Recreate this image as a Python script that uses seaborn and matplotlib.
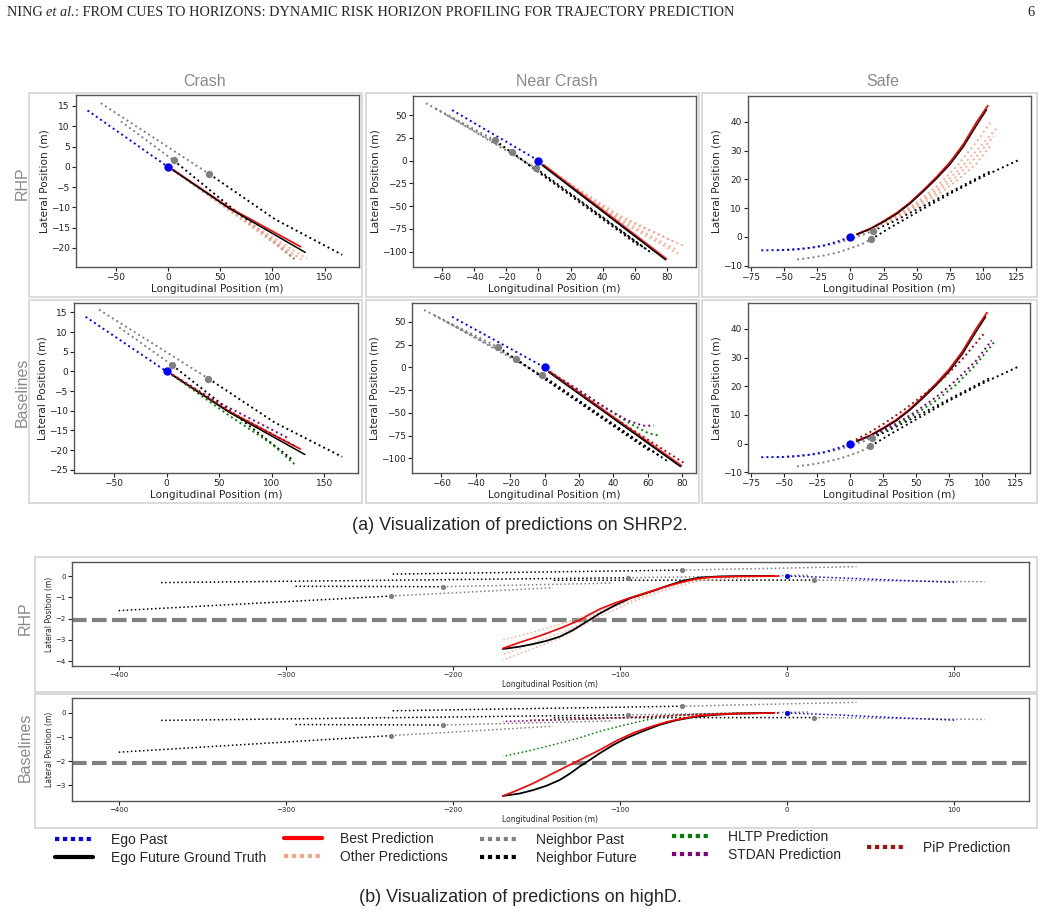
import matplotlib
matplotlib.use("Agg")
import matplotlib.pyplot as plt
from matplotlib.lines import Line2D
from matplotlib.patches import Rectangle
import seaborn as sns

# ---------------- SHRP2 : crash ----------------
crash_ego_past = [(-77, 13.9), (0, 0)]
crash_ego_future = [(4.8, -0.8), (59, -10.3), (131.5, -21.1)]
crash_best = [(4.8, -0.7), (59, -10.1), (127, -19.7)]
crash_others = [
    [(4.8, -0.8), (60, -10.8), (116, -21.5)],
    [(4.8, -0.8), (60, -10.9), (121, -22.6)],
    [(4.8, -0.8), (62, -11.2), (126, -22.5)],
    [(4.8, -0.8), (62, -11.3), (130, -23.2)],
    [(4.8, -0.8), (64, -11.6), (133, -22.6)],
]
crash_nb_past = [[(-64.3, 15.7), (39.8, -1.8)], [(-45, 11.2), (5.4, 1.6)]]
crash_nb_future = [[(5.4, 1.6), (60, -9.9), (121, -22.7)],
                   [(39.8, -1.8), (103, -13.0), (167, -21.7)]]
crash_nb_now = [(5.4, 1.6), (39.8, -1.8)]
crash_hltp = [(5.4, -0.9), (60, -11.3), (100, -18.4), (123, -23.9)]
crash_stdan = [(5.4, -0.8), (46, -7.4), (90, -13.4), (116, -17.0)]
crash_pip = [(5.4, -0.8), (60, -10.2), (123, -19.1)]

# ---------------- SHRP2 : near crash ----------------
near_ego_past = [(-53.7, 55.5), (0, 0)]
near_ego_future = [(2.3, -5.1), (79, -109)]
near_best = [(3, -4.5), (79.5, -108)]
near_others = [
    [(3, -5), (20, -27), (50, -62), (89.8, -93.4)],
    [(3, -5), (20, -27), (50, -64), (86.7, -98.9)],
    [(3, -5), (20, -26), (50, -60), (83.6, -88.6)],
    [(3, -5), (20, -28), (50, -66), (87.8, -103.3)],
]
near_nb_past = [[(-70, 63), (-26.8, 22.1)], [(-64, 57), (-16.6, 9.2)], [(-57, 50), (-1.5, -8.5)]]
near_nb_future = [[(-26.8, 22.1), (62, -93)], [(-16.6, 9.2), (67, -97.5)], [(-1.5, -8.5), (71, -102.5)]]
near_nb_now = [(-26.8, 22.1), (-16.6, 9.2), (-1.5, -8.5)]
near_hltp = [(3, -5), (30, -38), (50, -62), (60, -72), (66.4, -75)]
near_stdan = [(3, -5), (20, -25), (35, -44), (48, -58), (57, -64), (63.5, -64)]
near_pip = [(3, -5), (40, -55), (81, -105)]

# ---------------- SHRP2 : safe ----------------
safe_ego_past = [(-67, -4.7), (-50, -4.6), (-40, -4.3), (-30, -3.8), (-20, -3.0), (-10, -1.7), (0, 0)]
safe_ego_future = [(5, 0.8), (15, 2.7), (25, 5.2), (35, 8.0), (45, 11.6), (55, 15.8), (65, 20.3),
                   (75, 25.2), (85, 31.3), (95, 38.8), (102.5, 44.2)]
safe_best = [(5, 1.0), (15, 2.9), (25, 5.5), (35, 8.4), (45, 12.0), (55, 16.3), (65, 20.9),
             (75, 26.0), (85, 32.2), (95, 39.9), (103.5, 45.7)]
safe_others = [
    [(5, 0.8), (20, 3.6), (35, 7.5), (50, 12.0), (65, 17.5), (80, 24.5), (95, 33.0), (106.5, 40.5)],
    [(5, 0.8), (20, 3.5), (35, 7.2), (50, 11.4), (65, 16.4), (80, 22.6), (95, 30.0), (110.5, 38.0)],
    [(5, 0.8), (20, 3.3), (35, 6.6), (50, 10.3), (65, 14.5), (80, 19.5), (95, 25.5), (105, 31.5)],
    [(5, 0.8), (20, 3.4), (35, 6.9), (50, 10.9), (65, 15.5), (80, 21.0), (95, 28.0), (108, 35.0)],
]
safe_nb_past = [[(-40, -7.9), (-30, -7.3), (-20, -6.5), (-10, -5.5), (0, -4.0), (8, -2.7), (15.5, -0.9)],
                [(-55, -4.7), (-40, -4.4), (-25, -3.6), (-10, -2.2), (0, -0.8), (10, 0.8), (17, 2.1)]]
safe_nb_future = [[(17, 2.1), (30, 4.8), (50, 9.5), (75, 15.5), (105, 22.7)],
                  [(15.5, -0.9), (30, 3.2), (50, 8.5), (75, 15.0), (100, 21.0), (126.6, 26.7)]]
safe_nb_now = [(15.5, -0.9), (17, 2.1)]
safe_hltp = [(5, 0.8), (20, 3.3), (35, 6.5), (50, 10.5), (65, 15.0), (80, 20.5), (95, 27.5), (110, 36)]
safe_stdan = [(5, 0.8), (20, 3.5), (35, 7.0), (50, 11.3), (65, 16.2), (80, 22.0), (95, 28.8), (107, 36)]
safe_pip = [(4.5, 1.4), (15, 4.0), (25, 6.8), (40, 11.5), (55, 16.8), (70, 22.5), (85, 29.5), (101, 38.2)]

# ---------------- highD ----------------
hd_ego_past = [(0, 0), (30, -0.08), (60, -0.18), (101.5, -0.3)]
hd_ego_future_rhp = [(-8, 0), (-25, 0), (-40, -0.02), (-52, -0.07), (-62, -0.22), (-70, -0.42), (-78, -0.64),
                     (-86, -0.85), (-94, -1.05), (-103, -1.38), (-112, -1.76), (-120, -2.15), (-128, -2.54),
                     (-136, -2.85), (-144, -3.05), (-152, -3.2), (-160, -3.32), (-170, -3.43)]
hd_best_rhp = [(-5, 0), (-30, -0.02), (-45, -0.05), (-55, -0.14), (-65, -0.33), (-75, -0.55), (-85, -0.8),
               (-95, -1.05), (-104, -1.3), (-112, -1.55), (-118, -1.8), (-124, -2.07), (-134, -2.4),
               (-144, -2.7), (-152, -2.92), (-160, -3.12), (-170, -3.4)]
hd_others = [
    [(-5, 0), (-40, -0.03), (-55, -0.15), (-75, -0.6), (-100, -1.2), (-125, -2.0), (-150, -2.6), (-170, -3.0)],
    [(-5, 0), (-50, -0.2), (-62, -0.3), (-70, -0.45), (-78, -0.7), (-85, -0.9), (-100, -1.35), (-115, -1.8),
     (-130, -2.5), (-150, -3.1), (-170, -3.7)],
    [(-5, 0), (-45, -0.1), (-55, -0.25), (-75, -0.7), (-95, -1.3), (-115, -2.0), (-135, -2.9), (-155, -3.5),
     (-170, -3.95)],
]
hd_nb_now = [(-63, 0.28), (-95, -0.08), (16.5, -0.19), (-206, -0.5), (-237, -0.94)]
hd_nb_past = [[(-63, 0.28), (41.7, 0.44)], [(-95, -0.08), (14, 0.04)], [(16.5, -0.19), (118.6, -0.27)],
              [(-206, -0.5), (-104, -0.33)], [(-237, -0.94), (-140, -0.55)]]
hd_nb_future = [[(-63, 0.28), (-237, 0.09)], [(-95, -0.08), (-376, -0.31)], [(16.5, -0.19), (-140, -0.2)],
                [(-206, -0.5), (-295, -0.48)], [(-237, -0.94), (-401, -1.63)]]
hd_ego_future_base = [(-8, 0), (-32, -0.03), (-45, -0.09), (-56, -0.17), (-66, -0.3), (-76, -0.49),
                      (-86, -0.75), (-96, -1.04), (-104, -1.33), (-112, -1.67), (-118, -1.95), (-124, -2.22),
                      (-130, -2.52), (-136, -2.78), (-144, -3.02), (-152, -3.2), (-160, -3.34), (-170, -3.44)]
hd_best_base = [(-8, 0), (-32, -0.03), (-42, -0.06), (-52, -0.11), (-62, -0.22), (-72, -0.37), (-82, -0.58),
                (-92, -0.83), (-102, -1.15), (-112, -1.53), (-122, -1.88), (-132, -2.22), (-142, -2.57),
                (-152, -2.92), (-162, -3.22), (-170, -3.44)]
hd_hltp = [(-8, 0), (-25, -0.01), (-40, -0.03), (-55, -0.06), (-68, -0.11), (-78, -0.2), (-88, -0.35),
           (-100, -0.55), (-112, -0.76), (-125, -1.05), (-140, -1.32), (-155, -1.58), (-170, -1.8)]
hd_stdan = [(-5, 0), (-50, -0.05), (-100, -0.2), (-140, -0.3), (-170, -0.35)]
hd_pip = [(-5, 0), (-40, -0.02), (-80, -0.15), (-120, -0.25), (-155, -0.3)]
hd_lane_y = -2.08

# axis ticks
crash_xticks = [-50, 0, 50, 100, 150]
crash_yticks_rhp = [15, 10, 5, 0, -5, -10, -15, -20]
crash_yticks_base = [15, 10, 5, 0, -5, -10, -15, -20, -25]
near_xticks, near_yticks = [-60, -40, -20, 0, 20, 40, 60, 80], [50, 25, 0, -25, -50, -75, -100]
safe_xticks, safe_yticks = [-75, -50, -25, 0, 25, 50, 75, 100, 125], [40, 30, 20, 10, 0, -10]
hd_xticks, hd_yticks_rhp, hd_yticks_base = [-400, -300, -200, -100, 0, 100], [0, -1, -2, -3, -4], [0, -1, -2, -3]

col_titles = ["Crash", "Near Crash", "Safe"]
legend_labels = ["Ego Past", "Ego Future Ground Truth", "Best Prediction", "Other Predictions",
                 "Neighbor Past", "Neighbor Future", "HLTP Prediction", "STDAN Prediction", "PiP Prediction"]

C_EGO, C_BEST, C_OTHER, C_NB = "blue", "red", "#f5a58c", "gray"
C_HLTP, C_STDAN, C_PIP = "green", "purple", "#a01010"

W, H = 1042, 914
sns.set_theme(style="ticks")
plt.rcParams["font.family"] = ["DejaVu Sans"]
fig = plt.figure(figsize=(W / 100, H / 100), dpi=100)
fig.patch.set_facecolor("white")
HELV = ["Liberation Sans", "DejaVu Sans"]
SERIF = ["Liberation Serif", "DejaVu Serif"]


def px_axes(l, t, r, b):
    return fig.add_axes([l / W, 1 - b / H, (r - l) / W, (b - t) / H])


def frame(l, t, r, b):
    fig.add_artist(Rectangle((l / W, 1 - b / H), (r - l) / W, (b - t) / H, transform=fig.transFigure,
                             fill=False, ec="#d4d4d4", lw=1.2))


def trace(ax, pts, color, ls=":", lw=1.4, z=2, alpha=1.0):
    xs = [p[0] for p in pts]
    ys = [p[1] for p in pts]
    sns.lineplot(x=xs, y=ys, sort=False, estimator=None, ax=ax, color=color,
                 linestyle=ls, linewidth=lw, zorder=z, alpha=alpha)


def dots(ax, pts, color, s):
    sns.scatterplot(x=[p[0] for p in pts], y=[p[1] for p in pts], ax=ax, color=color,
                    s=s, linewidth=0, zorder=6)


def style_axes(ax, xlim, ylim, xticks, yticks, tsize, lsize):
    ax.set_xlim(*xlim)
    ax.set_ylim(*ylim)
    ax.set_xticks(xticks)
    ax.set_yticks(yticks)
    ax.tick_params(labelsize=tsize, length=3, width=0.8, pad=1.5, colors="#222")
    for sp in ax.spines.values():
        sp.set_visible(True)
        sp.set_color("#555")
        sp.set_linewidth(1.0)
    ax.set_xlabel("Longitudinal Position (m)", fontsize=lsize, labelpad=1)
    ax.set_ylabel("Lateral Position (m)", fontsize=lsize, labelpad=1)


def shrp2(ax, ego_past, ego_future, best, others, nb_past, nb_future, nb_now, base=None):
    for p in nb_past:
        trace(ax, p, C_NB)
    for p in nb_future:
        trace(ax, p, "black")
    if base is None:
        for p in others:
            trace(ax, p, C_OTHER, alpha=0.9)
    trace(ax, ego_past, C_EGO)
    trace(ax, best, C_BEST, ls="-", lw=1.2, z=3)
    trace(ax, ego_future, "black", ls="-", lw=1.1, z=4)
    if base is not None:
        hltp, stdan, pip = base
        trace(ax, hltp, C_HLTP, z=5)
        trace(ax, stdan, C_STDAN, z=5)
        trace(ax, pip, C_PIP, z=5)
    dots(ax, nb_now, C_NB, 28)
    dots(ax, [(0, 0)], C_EGO, 36)


# ---------------- panel frames ----------------
for (t, b) in [(93, 297), (300, 503)]:
    for (l, r) in [(29, 362), (366, 699), (702, 1037)]:
        frame(l, t, r, b)
frame(35, 557, 1037, 692)
frame(35, 694, 1037, 828)

# ---------------- SHRP2 panels ----------------
crash_base = (crash_hltp, crash_stdan, crash_pip)
near_base = (near_hltp, near_stdan, near_pip)
safe_base = (safe_hltp, safe_stdan, safe_pip)

ax = px_axes(76, 95, 359, 267)
shrp2(ax, crash_ego_past, crash_ego_future, crash_best, crash_others, crash_nb_past, crash_nb_future, crash_nb_now)
style_axes(ax, (-88, 183), (-24.7, 17.7), crash_xticks, crash_yticks_rhp, 6.5, 7.6)

ax = px_axes(413, 96, 696, 267)
shrp2(ax, near_ego_past, near_ego_future, near_best, near_others, near_nb_past, near_nb_future, near_nb_now)
style_axes(ax, (-78, 98), (-117, 71), near_xticks, near_yticks, 6.5, 7.6)

ax = px_axes(748, 96, 1031, 267)
shrp2(ax, safe_ego_past, safe_ego_future, safe_best, safe_others, safe_nb_past, safe_nb_future, safe_nb_now)
style_axes(ax, (-77, 136), (-10.5, 49), safe_xticks, safe_yticks, 6.5, 7.6)

ax = px_axes(74, 303, 358, 473)
shrp2(ax, crash_ego_past, crash_ego_future, crash_best, [], crash_nb_past, crash_nb_future, crash_nb_now, crash_base)
style_axes(ax, (-88, 182), (-25.8, 17.4), crash_xticks, crash_yticks_base, 6.5, 7.6)

ax = px_axes(412, 303, 696, 473)
shrp2(ax, near_ego_past, near_ego_future, near_best, [], near_nb_past, near_nb_future, near_nb_now, near_base)
style_axes(ax, (-77, 88), (-116, 70.7), near_xticks, near_yticks, 6.5, 7.6)

ax = px_axes(748, 303, 1030, 473)
shrp2(ax, safe_ego_past, safe_ego_future, safe_best, [], safe_nb_past, safe_nb_future, safe_nb_now, safe_base)
style_axes(ax, (-77, 136), (-10.2, 49), safe_xticks, safe_yticks, 6.5, 7.6)

for x, title in zip([205, 557, 883], col_titles):
    fig.text(x / W, 1 - 82 / H, title, ha="center", va="center", fontsize=11.5, color="#8a8a8a", family=HELV)
fig.text(22 / W, 1 - 183 / H, "RHP", rotation=90, ha="center", va="center", fontsize=11.5, color="#8a8a8a", family=HELV)
fig.text(22 / W, 1 - 392 / H, "Baselines", rotation=90, ha="center", va="center", fontsize=11.5, color="#8a8a8a", family=HELV)
fig.text(520 / W, 1 - 526 / H, "(a) Visualization of predictions on SHRP2.", ha="center", va="center",
         fontsize=13, family=HELV)


# ---------------- highD panels ----------------
def highd(ax, ego_future, best, others, base=None):
    ax.axhline(hd_lane_y, color="gray", lw=3, ls=(0, (3.5, 1.3)), zorder=1)
    for p in hd_nb_past:
        trace(ax, p, C_NB, lw=1.1)
    for p in hd_nb_future:
        trace(ax, p, "black", lw=1.1)
    for p in others:
        trace(ax, p, C_OTHER, lw=1.1, alpha=0.9)
    trace(ax, hd_ego_past, C_EGO, lw=1.1)
    if base is not None:
        trace(ax, base[0], C_HLTP, lw=1.1, z=3)
        trace(ax, base[1], C_STDAN, lw=1.1, z=3)
        trace(ax, base[2], C_PIP, lw=1.1, z=3)
    trace(ax, ego_future, "black", ls="-", lw=1.3, z=4)
    trace(ax, best, C_BEST, ls="-", lw=1.2, z=5)
    dots(ax, hd_nb_now, C_NB, 14)
    dots(ax, [(0, 0)], C_EGO, 14)


ax = px_axes(72, 562, 1029, 666)
highd(ax, hd_ego_future_rhp, hd_best_rhp, hd_others)
style_axes(ax, (-428, 145), (-4.23, 0.66), hd_xticks, hd_yticks_rhp, 5, 5.5)

ax = px_axes(72, 698, 1029, 801)
highd(ax, hd_ego_future_base, hd_best_base, [], (hd_hltp, hd_stdan, hd_pip))
style_axes(ax, (-428, 145), (-3.65, 0.62), hd_xticks, hd_yticks_base, 5, 5.5)

fig.text(25 / W, 1 - 618 / H, "RHP", rotation=90, ha="center", va="center", fontsize=11.5, color="#8a8a8a", family=HELV)
fig.text(25 / W, 1 - 747 / H, "Baselines", rotation=90, ha="center", va="center", fontsize=11.5, color="#8a8a8a", family=HELV)

# ---------------- legend ----------------
dot = (0, (1, 0.9))
handles = [
    Line2D([], [], color=C_EGO, lw=3, ls=dot),
    Line2D([], [], color="black", lw=3, ls="-"),
    Line2D([], [], color=C_BEST, lw=3, ls="-"),
    Line2D([], [], color=C_OTHER, lw=3, ls=dot),
    Line2D([], [], color=C_NB, lw=3, ls=dot),
    Line2D([], [], color="black", lw=3, ls=dot),
    Line2D([], [], color=C_HLTP, lw=3, ls=dot),
    Line2D([], [], color=C_STDAN, lw=3, ls=dot),
    Line2D([], [], color=C_PIP, lw=3, ls=dot),
]
groups = [(0, 2, 55, 833), (2, 4, 284, 832), (4, 6, 480, 833), (6, 8, 672, 830), (8, 9, 867, 841)]
for i0, i1, x, top in groups:
    fig.legend(handles[i0:i1], legend_labels[i0:i1], loc="upper left",
               bbox_to_anchor=(x / W, 1 - top / H), frameon=False, borderpad=0, borderaxespad=0,
               handlelength=2.75, handletextpad=1.3, labelspacing=0.3,
               prop={"family": HELV, "size": 10})

fig.text(520 / W, 1 - 897 / H, "(b) Visualization of predictions on highD.", ha="center", va="center",
         fontsize=13, family=HELV)

# ---------------- page header ----------------
renderer = fig.canvas.get_renderer()
x = 7
for txt, style in [("NING ", "normal"), ("et al.", "italic"),
                   (": FROM CUES TO HORIZONS: DYNAMIC RISK HORIZON PROFILING FOR TRAJECTORY PREDICTION", "normal")]:
    t = fig.text(x / W, 1 - 12 / H, txt, ha="left", va="center", fontsize=10.25, family=SERIF, style=style)
    x = t.get_window_extent(renderer).x1
fig.text(1035 / W, 1 - 12 / H, "6", ha="right", va="center", fontsize=10.25, family=SERIF)

fig.savefig("out.png", dpi=100, facecolor="white")
